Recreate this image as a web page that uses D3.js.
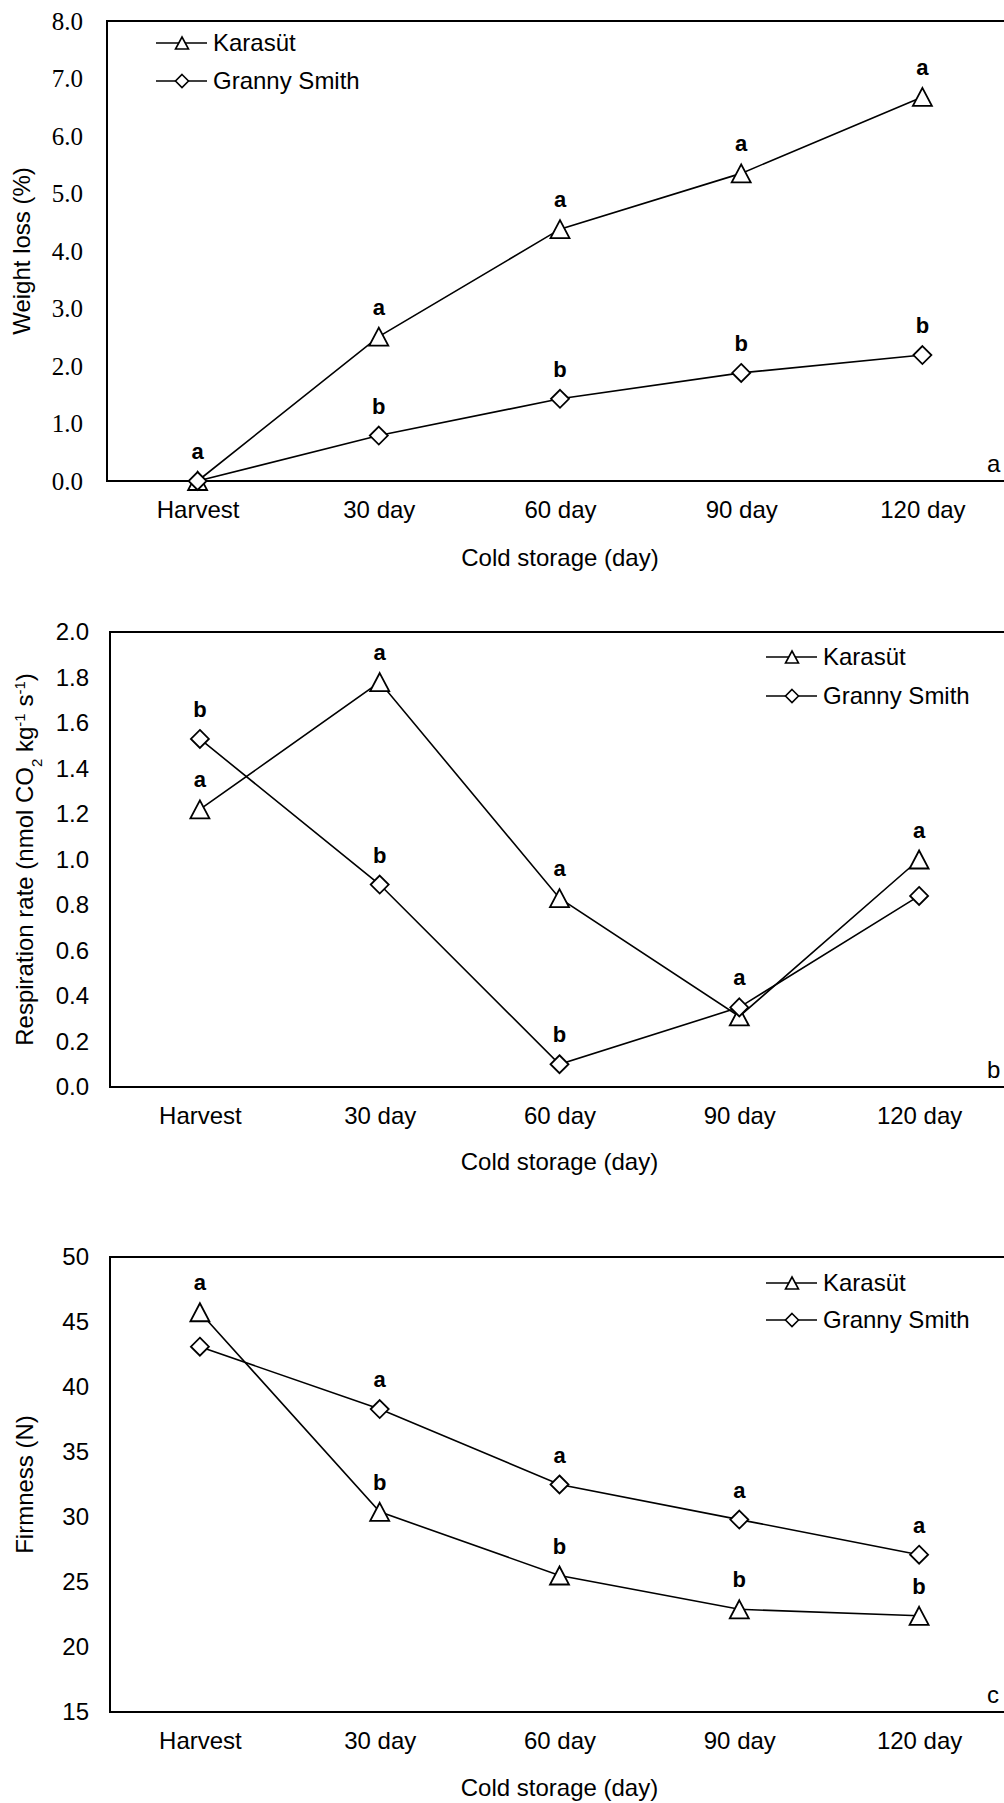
<!DOCTYPE html>
<html>
<head>
  <meta charset="utf-8">
  <title>Cold storage charts</title>
  <script src="https://d3js.org/d3.v7.min.js"></script>
  <style>
    body { margin: 0; background: #fff; }
    text { font-family: Arial, "Liberation Sans", sans-serif; fill: #000; }
    .serif text { font-family: "Liberation Serif", "Times New Roman", serif; }
  </style>
</head>
<body>
  <div id="my_dataviz"></div>
  <script>
    // data
    var categories = ["Harvest", "30 day", "60 day", "90 day", "120 day"];
    var seriesNames = ["Karasüt", "Granny Smith"];

    // a) weight loss (%)
    var weightKarasut = [0, 2.51, 4.38, 5.35, 6.68];
    var weightGranny = [0, 0.79, 1.43, 1.88, 2.19];
    var weightKarasutLetters = ["", "a", "a", "a", "a"];
    var weightGrannyLetters = ["a", "b", "b", "b", "b"];
    var weightTicks = [0, 1, 2, 3, 4, 5, 6, 7, 8];

    // b) respiration rate
    var respKarasut = [1.22, 1.78, 0.83, 0.31, 1.00];
    var respGranny = [1.53, 0.89, 0.10, 0.35, 0.84];
    var respKarasutLetters = ["a", "a", "a", "", "a"];
    var respGrannyLetters = ["b", "b", "b", "a", ""];
    var respTicks = [0, 0.2, 0.4, 0.6, 0.8, 1.0, 1.2, 1.4, 1.6, 1.8, 2.0];

    // c) firmness (N)
    var firmKarasut = [45.75, 30.4, 25.5, 22.9, 22.4];
    var firmGranny = [43.1, 38.3, 32.5, 29.8, 27.1];
    var firmKarasutLetters = ["a", "b", "b", "b", "b"];
    var firmGrannyLetters = ["", "a", "a", "a", "a"];
    var firmTicks = [15, 20, 25, 30, 35, 40, 45, 50];

    var svg = d3.select("#my_dataviz")
      .append("svg")
      .attr("width", 1004)
      .attr("height", 1803);

    // marker paths, centred on the point
    function trianglePath(w, h) {
      return "M0," + (-h / 2) + "L" + (w / 2) + "," + (h / 2) + "L" + (-w / 2) + "," + (h / 2) + "Z";
    }
    function diamondPath(r) {
      return "M0," + (-r) + "L" + r + ",0L0," + r + "L" + (-r) + ",0Z";
    }
    var markers = [trianglePath(19, 18), diamondPath(9)];
    var legendMarkers = [trianglePath(13, 12), diamondPath(6.5)];

    function drawChart(cfg) {
      var g = svg.append("g");

      var x = d3.scalePoint()
        .domain(categories)
        .range([cfg.left, cfg.right])
        .padding(0.5);

      var y = d3.scaleLinear()
        .domain(cfg.domain)
        .range([cfg.bottom, cfg.top]);

      // frame (right side falls off the page like the original)
      g.append("rect")
        .attr("x", cfg.left)
        .attr("y", cfg.top)
        .attr("width", cfg.right - cfg.left)
        .attr("height", cfg.bottom - cfg.top)
        .attr("fill", "none")
        .attr("stroke", "#000")
        .attr("stroke-width", 2);

      // y axis labels
      var yAxis = g.append("g")
        .attr("class", cfg.serif ? "serif" : null)
        .attr("transform", "translate(" + cfg.left + ",0)")
        .call(d3.axisLeft(y).tickValues(cfg.ticks).tickFormat(cfg.fmt).tickSize(0).tickPadding(cfg.tickGap));
      yAxis.select(".domain").remove();
      yAxis.attr("font-family", null).attr("font-size", null);
      yAxis.selectAll("text")
        .style("font-size", cfg.serif ? "25px" : "24px")
        .attr("fill", "#000");

      // x axis labels
      var xAxis = g.append("g")
        .attr("transform", "translate(0," + cfg.bottom + ")")
        .call(d3.axisBottom(x).tickSize(0).tickPadding(0));
      xAxis.select(".domain").remove();
      xAxis.attr("font-family", null).attr("font-size", null);
      xAxis.selectAll("text")
        .attr("dy", null)
        .attr("y", 37)
        .style("font-size", "24px")
        .attr("fill", "#000");

      // axis titles
      g.append("text")
        .attr("x", (cfg.left + cfg.right) / 2)
        .attr("y", cfg.bottom + cfg.xTitleGap)
        .attr("text-anchor", "middle")
        .style("font-size", "24px")
        .text("Cold storage (day)");

      var yt = g.append("text")
        .attr("transform", "translate(" + cfg.yTitleX + "," + ((cfg.top + cfg.bottom) / 2) + ") rotate(-90)")
        .attr("text-anchor", "middle")
        .style("font-size", "24px");
      cfg.yTitle.forEach(function (part) {
        var t = yt.append("tspan").text(part.t);
        if (part.s) {
          t.attr("baseline-shift", part.s).style("font-size", "15px");
        }
      });

      // panel letter
      g.append("text")
        .attr("x", 987)
        .attr("y", cfg.bottom - 9)
        .style("font-size", "24px")
        .text(cfg.panel);

      // series
      var line = d3.line()
        .x(function (d) { return x(d.cat); })
        .y(function (d) { return y(d.value); });

      cfg.series.forEach(function (values, i) {
        var pts = values.map(function (v, j) {
          return { cat: categories[j], value: v, letter: cfg.letters[i][j] };
        });
        g.append("path")
          .datum(pts)
          .attr("d", line)
          .attr("fill", "none")
          .attr("stroke", "#000")
          .attr("stroke-width", 1.6);
        g.selectAll(null)
          .data(pts)
          .enter()
          .append("path")
          .attr("d", markers[i])
          .attr("transform", function (d) { return "translate(" + x(d.cat) + "," + y(d.value) + ")"; })
          .attr("fill", "#fff")
          .attr("stroke", "#000")
          .attr("stroke-width", 1.8);
        g.selectAll(null)
          .data(pts.filter(function (d) { return d.letter; }))
          .enter()
          .append("text")
          .attr("x", function (d) { return x(d.cat); })
          .attr("y", function (d) { return y(d.value) - 22; })
          .attr("text-anchor", "middle")
          .style("font-size", "22px")
          .style("font-weight", "bold")
          .text(function (d) { return d.letter; });
      });

      // legend
      seriesNames.forEach(function (name, i) {
        var ly = cfg.legendRows[i];
        g.append("line")
          .attr("x1", cfg.legendX)
          .attr("x2", cfg.legendX + 51)
          .attr("y1", ly)
          .attr("y2", ly)
          .attr("stroke", "#000")
          .attr("stroke-width", 1.6);
        g.append("path")
          .attr("d", legendMarkers[i])
          .attr("transform", "translate(" + (cfg.legendX + 26) + "," + ly + ")")
          .attr("fill", "#fff")
          .attr("stroke", "#000")
          .attr("stroke-width", 1.6);
        g.append("text")
          .attr("x", cfg.legendX + 57)
          .attr("y", ly)
          .attr("dy", "0.35em")
          .style("font-size", "24px")
          .text(name);
      });
    }

    drawChart({
      left: 107, right: 1013, top: 21, bottom: 481,
      domain: [0, 8], ticks: weightTicks, fmt: d3.format(".1f"),
      serif: true, tickGap: 24,
      series: [weightKarasut, weightGranny],
      letters: [weightKarasutLetters, weightGrannyLetters],
      legendX: 156, legendRows: [43, 81],
      xTitleGap: 85, yTitleX: 30,
      yTitle: [{ t: "Weight loss (%)" }],
      panel: "a"
    });

    drawChart({
      left: 110, right: 1009, top: 632, bottom: 1087,
      domain: [0, 2], ticks: respTicks, fmt: d3.format(".1f"),
      serif: false, tickGap: 21,
      series: [respKarasut, respGranny],
      letters: [respKarasutLetters, respGrannyLetters],
      legendX: 766, legendRows: [657, 696],
      xTitleGap: 83, yTitleX: 33,
      yTitle: [
        { t: "Respiration rate (nmol CO" }, { t: "2", s: "sub" },
        { t: " kg" }, { t: "-1", s: "super" },
        { t: " s" }, { t: "-1", s: "super" }, { t: ")" }
      ],
      panel: "b"
    });

    drawChart({
      left: 110, right: 1009, top: 1257, bottom: 1712,
      domain: [15, 50], ticks: firmTicks, fmt: d3.format("d"),
      serif: false, tickGap: 21,
      series: [firmKarasut, firmGranny],
      letters: [firmKarasutLetters, firmGrannyLetters],
      legendX: 766, legendRows: [1283, 1320],
      xTitleGap: 84, yTitleX: 33,
      yTitle: [{ t: "Firmness (N)" }],
      panel: "c"
    });
  </script>
</body>
</html>
